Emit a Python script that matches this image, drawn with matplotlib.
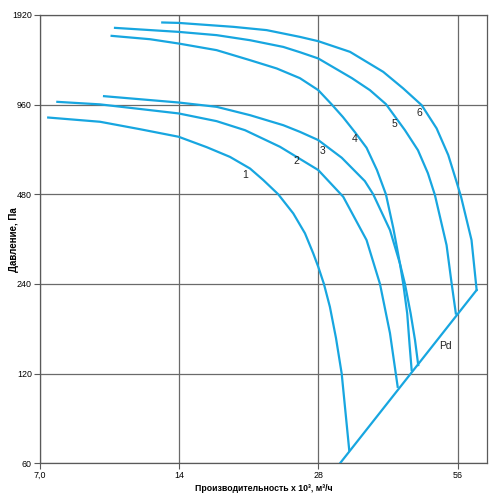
import matplotlib
matplotlib.use("Agg")
import matplotlib.pyplot as plt
from matplotlib.ticker import FixedLocator, FixedFormatter, NullLocator

plt.rcParams['font.family'] = ['Liberation Sans', 'DejaVu Sans']

# fan curves (flow x 10^3 m3/h, pressure Pa)
x1 = [7.31, 9.46, 11.54, 13.98, 16.08, 18.05, 19.94, 21.3, 22.95, 24.73, 26.21, 27.31, 28.0, 28.8, 29.67, 30.58, 31.46, 32.66]
y1 = [869, 841, 794, 749, 691, 641, 586, 536, 480, 414, 355, 304, 274, 240, 201, 158, 120, 66.5]

x2 = [7.65, 9.46, 13.98, 16.89, 19.45, 23.15, 28.0, 31.7, 35.6, 38.06, 40.0, 41.56]
y2 = [981, 962, 897, 845, 788, 693, 579, 471, 337, 240, 164, 108.4]

x3 = [9.65, 13.98, 16.89, 19.94, 23.53, 25.56, 28.0, 31.46, 35.3, 36.8, 40.0, 42.03, 43.09, 44.33, 45.3, 46.03]
y3 = [1025, 976, 944, 885, 819, 778, 730, 637, 531.6, 480, 364, 281, 240, 191, 155.6, 128.2]

x4 = [10.02, 12.13, 13.98, 16.89, 19.94, 22.77, 25.56, 28.0, 29.93, 31.66, 33.6, 35.6, 37.49, 39.2, 40.66, 42.03, 42.73, 43.58, 44.1, 44.55]
y4 = [1634, 1592, 1540, 1463, 1354, 1270, 1178, 1074, 962, 872, 776, 688, 579, 480, 370, 281, 240, 191, 149.7, 123.4]

x5 = [10.19, 13.98, 16.89, 19.94, 23.53, 25.56, 28.0, 33.11, 36.2, 39.2, 43.09, 45.97, 48.3, 50.02, 53.0, 54.35, 55.5]
y5 = [1738, 1685, 1643, 1580, 1500, 1440, 1372, 1178, 1074, 964, 788, 675, 565, 477, 324, 241, 191]

x6 = [12.89, 13.98, 18.35, 21.66, 25.56, 28.0, 32.79, 38.68, 42.73, 46.83, 50.44, 53.45, 55.7, 56.98, 60.0, 61.55]
y6 = [1812, 1806, 1752, 1708, 1621, 1568, 1444, 1237, 1088, 956, 799, 650, 528.6, 469.8, 337, 229]

# dynamic pressure line
pd_x = [31.2, 61.55]
pd_y = [60, 229]

curve_names = ['1', '2', '3', '4', '5', '6']
x_ticks = [7, 14, 28, 56]
x_tick_labels = ['7,0', '14', '28', '56']
y_ticks = [60, 120, 240, 480, 960, 1920]

blue = '#17a6e0'

fig = plt.figure(figsize=(5.0, 4.98), dpi=100)
ax = fig.add_axes([0.079, 0.0697, 0.8956, 0.9002])

for xs, ys in zip([x1, x2, x3, x4, x5, x6], [y1, y2, y3, y4, y5, y6]):
    ax.plot(xs, ys, color=blue, lw=1.6, solid_joinstyle='round', zorder=3)
ax.plot(pd_x, pd_y, color=blue, lw=1.6, zorder=3)

ax.set_xscale('log', base=2)
ax.set_yscale('log', base=2)
ax.set_xlim(7, 64.9)
ax.set_ylim(60, 1920)

ax.xaxis.set_major_locator(FixedLocator(x_ticks))
ax.xaxis.set_major_formatter(FixedFormatter(x_tick_labels))
ax.yaxis.set_major_locator(FixedLocator(y_ticks))
ax.yaxis.set_major_formatter(FixedFormatter([str(v) for v in y_ticks]))
ax.xaxis.set_minor_locator(NullLocator())
ax.yaxis.set_minor_locator(NullLocator())

ax.grid(True, color='#6a6a6a', lw=0.9, zorder=1)
for s in ax.spines.values():
    s.set_color('#5a5a5a')
    s.set_linewidth(0.9)
ax.tick_params(length=4, width=0.8, color='#5a5a5a', labelsize=6.4, pad=1.5)

# curve numbers
label_x = [19.5, 25.06, 28.67, 33.5, 40.8, 46.2]
label_y = [557, 620, 670, 734, 826, 899]
for name, lx, ly in zip(curve_names, label_x, label_y):
    ax.text(lx, ly, name, fontsize=7.5, ha='center', va='center', color='#222222', zorder=4)
ax.text(52.8, 149, 'Pd', fontsize=7.5, ha='center', va='center', color='#222222', zorder=4)

ax.set_xlabel('Производительность х 10³, м³/ч', fontsize=6.3, fontweight='bold', va='center')
ax.xaxis.set_label_coords(0.5, -0.057)
ax.set_ylabel('Давление, Па', fontsize=7, fontweight='bold', va='center')
ax.yaxis.set_label_coords(-0.057, 0.5)

fig.savefig('out.png', dpi=100)
